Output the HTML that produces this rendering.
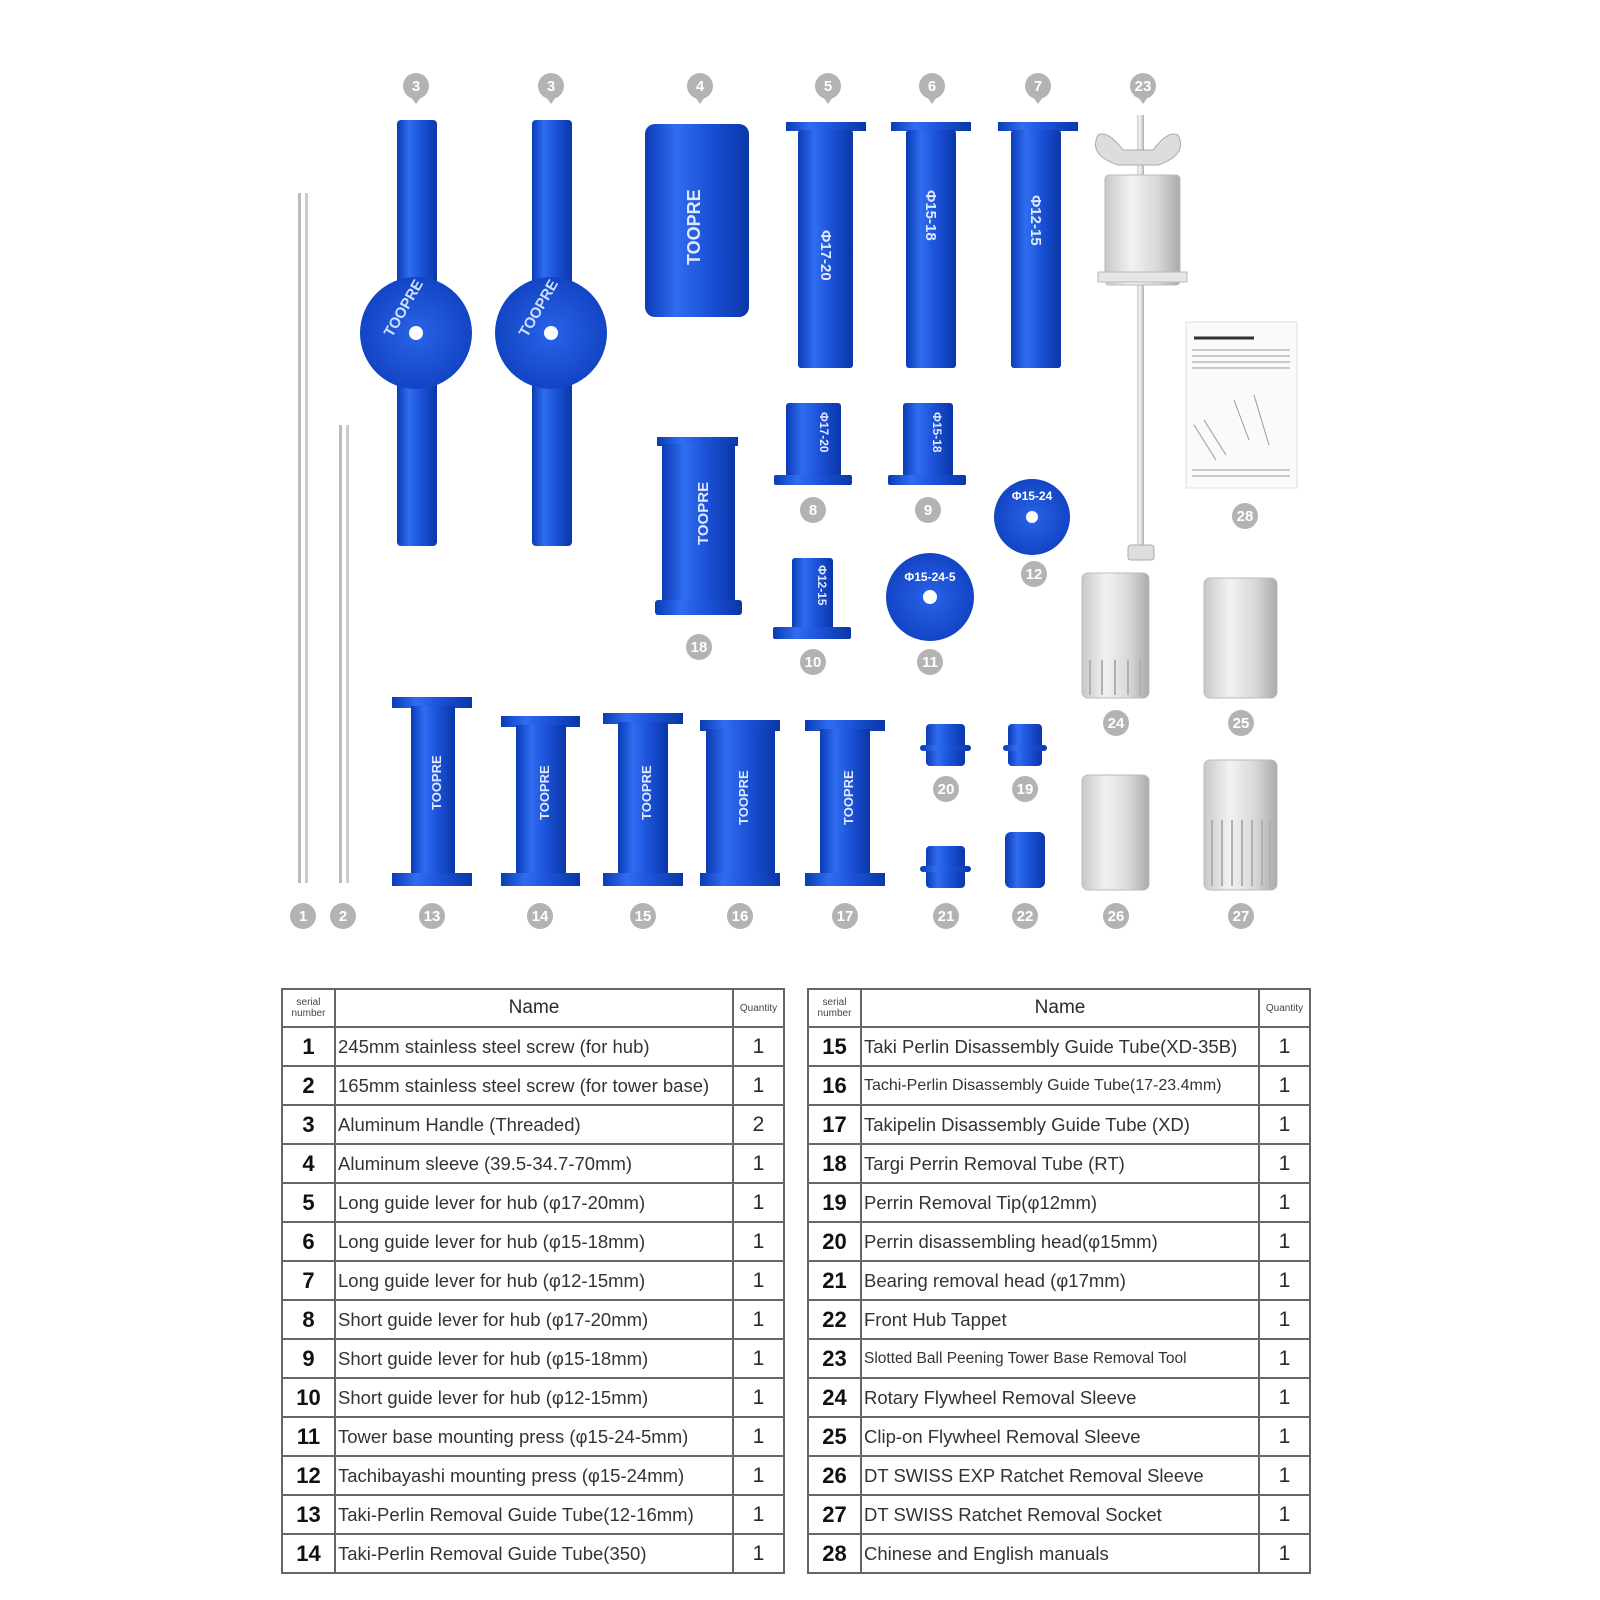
<!DOCTYPE html>
<html><head><meta charset="utf-8"><style>
html,body{margin:0;padding:0;background:#fff;width:1600px;height:1600px;overflow:hidden}
svg{position:absolute;left:0;top:0}
table{position:absolute;border-collapse:collapse;font-family:"Liberation Sans",sans-serif;color:#2a2a2a;table-layout:fixed}
td{border:2px solid #666;height:37px;padding:0;white-space:nowrap;overflow:hidden}
td.n{text-align:center;font-size:22px;font-weight:bold;color:#111}
td.t{font-size:18.5px;padding-left:2px;color:#333}
td.q{text-align:center;font-size:21px}
tr.h td{height:36px}
.sm{font-size:10px;line-height:11px;text-align:center;color:#444}
.hn{text-align:center;font-size:19px}
</style></head><body>
<svg width="1600" height="1600" viewBox="0 0 1600 1600" font-family="Liberation Sans, sans-serif">
<defs>
<linearGradient id="b" x1="0" x2="1"><stop offset="0" stop-color="#0b3bb5"/><stop offset=".3" stop-color="#2f6df0"/><stop offset=".6" stop-color="#1c52d8"/><stop offset="1" stop-color="#0a36a8"/></linearGradient>
<linearGradient id="s" x1="0" x2="1"><stop offset="0" stop-color="#c8c8c8"/><stop offset=".35" stop-color="#f2f2f2"/><stop offset=".7" stop-color="#d8d8d8"/><stop offset="1" stop-color="#aaa"/></linearGradient>
<radialGradient id="d"><stop offset="0" stop-color="#2a63e8"/><stop offset="1" stop-color="#1245c4"/></radialGradient>
</defs>
<!-- rods 1,2 -->
<rect x="298" y="193" width="3" height="690" fill="#bbb"/><rect x="305" y="193" width="3" height="690" fill="#ccc"/>
<rect x="339" y="425" width="3" height="458" fill="#bbb"/><rect x="346" y="425" width="3" height="458" fill="#ccc"/>
<!-- handles -->
<rect x="397" y="120" width="40" height="426" rx="4" fill="url(#b)"/><circle cx="416" cy="333" r="56" fill="url(#d)"/><circle cx="416" cy="333" r="7" fill="#fff"/>
<text x="392" y="338" fill="#cfe0ff" font-size="15" font-weight="bold" transform="rotate(-60 392 338)">TOOPRE</text>
<rect x="532" y="120" width="40" height="426" rx="4" fill="url(#b)"/><circle cx="551" cy="333" r="56" fill="url(#d)"/><circle cx="551" cy="333" r="7" fill="#fff"/>
<text x="527" y="338" fill="#cfe0ff" font-size="15" font-weight="bold" transform="rotate(-60 527 338)">TOOPRE</text>
<!-- 4 sleeve -->
<rect x="645" y="124" width="104" height="193" rx="10" fill="url(#b)"/>
<text x="700" y="265" fill="#dfe9ff" font-size="18" font-weight="bold" transform="rotate(-90 700 265)">TOOPRE</text>
<g fill="url(#b)">
<rect x="786" y="122" width="80" height="9"/><rect x="798" y="130" width="55" height="238" rx="3"/>
<rect x="891" y="122" width="80" height="9"/><rect x="906" y="130" width="50" height="238" rx="3"/>
<rect x="998" y="122" width="80" height="9"/><rect x="1011" y="130" width="50" height="238" rx="3"/>
<rect x="786" y="403" width="55" height="74" rx="3"/><rect x="774" y="475" width="78" height="10" rx="2"/>
<rect x="903" y="403" width="50" height="74" rx="3"/><rect x="888" y="475" width="78" height="10" rx="2"/>
<rect x="657" y="437" width="81" height="9"/><rect x="662" y="444" width="73" height="158"/><rect x="655" y="600" width="87" height="15" rx="3"/>
<rect x="792" y="558" width="41" height="71" rx="3"/><rect x="773" y="627" width="78" height="12" rx="2"/>
<rect x="392" y="697" width="80" height="11"/><rect x="411" y="706" width="44" height="170"/><rect x="392" y="873" width="80" height="13"/>
<rect x="501" y="716" width="79" height="11"/><rect x="516" y="725" width="50" height="150"/><rect x="501" y="873" width="79" height="13"/>
<rect x="603" y="713" width="80" height="11"/><rect x="618" y="722" width="50" height="153"/><rect x="603" y="873" width="80" height="13"/>
<rect x="700" y="720" width="80" height="11"/><rect x="706" y="729" width="69" height="146"/><rect x="700" y="873" width="80" height="13"/>
<rect x="805" y="720" width="80" height="11"/><rect x="820" y="729" width="50" height="146"/><rect x="805" y="873" width="80" height="13"/>
<rect x="926" y="724" width="39" height="42" rx="4"/><rect x="920" y="745" width="51" height="6" rx="3"/>
<rect x="1008" y="724" width="34" height="42" rx="4"/><rect x="1003" y="745" width="44" height="6" rx="3"/>
<rect x="926" y="846" width="39" height="42" rx="4"/><rect x="920" y="866" width="51" height="6" rx="3"/>
<rect x="1005" y="832" width="40" height="56" rx="6"/>
</g>
<g fill="#dfe9ff" font-size="15" font-weight="bold">
<text x="821" y="230" transform="rotate(90 821 230)">Φ17-20</text>
<text x="926" y="190" transform="rotate(90 926 190)">Φ15-18</text>
<text x="1031" y="195" transform="rotate(90 1031 195)">Φ12-15</text>
<text x="820" y="412" font-size="12" transform="rotate(90 820 412)">Φ17-20</text>
<text x="933" y="412" font-size="12" transform="rotate(90 933 412)">Φ15-18</text>
<text x="818" y="565" font-size="12" transform="rotate(90 818 565)">Φ12-15</text>
<text x="708" y="545" transform="rotate(-90 708 545)">TOOPRE</text>
<text x="441" y="810" font-size="13" transform="rotate(-90 441 810)">TOOPRE</text>
<text x="549" y="820" font-size="13" transform="rotate(-90 549 820)">TOOPRE</text>
<text x="651" y="820" font-size="13" transform="rotate(-90 651 820)">TOOPRE</text>
<text x="748" y="825" font-size="13" transform="rotate(-90 748 825)">TOOPRE</text>
<text x="853" y="825" font-size="13" transform="rotate(-90 853 825)">TOOPRE</text>
</g>
<circle cx="930" cy="597" r="44" fill="url(#d)"/><circle cx="930" cy="597" r="7" fill="#fff"/>
<text x="930" y="581" fill="#fff" font-size="12" font-weight="bold" text-anchor="middle">Φ15-24-5</text>
<circle cx="1032" cy="517" r="38" fill="url(#d)"/><circle cx="1032" cy="517" r="6" fill="#fff"/>
<text x="1032" y="500" fill="#fff" font-size="12" font-weight="bold" text-anchor="middle">Φ15-24</text>
<!-- 23 tool -->
<rect x="1137" y="115" width="7" height="445" fill="url(#s)"/>
<path d="M1098 135 q-10 20 20 30 l20 0 l20 0 q30-10 20-30 q-10-5-25 15 l-30 0 q-15-20-25-15z" fill="#ddd" stroke="#aaa"/>
<rect x="1105" y="175" width="75" height="110" rx="4" fill="url(#s)" stroke="#bbb"/>
<rect x="1098" y="272" width="89" height="10" fill="#e6e6e6" stroke="#bbb"/>
<rect x="1128" y="545" width="26" height="15" rx="3" fill="#ddd" stroke="#aaa"/>
<!-- 28 manual -->
<rect x="1186" y="322" width="111" height="166" fill="#fafafa" stroke="#ddd"/>
<g stroke="#999" stroke-width="1"><line x1="1194" y1="338" x2="1254" y2="338" stroke-width="3" stroke="#333"/>
<line x1="1192" y1="350" x2="1290" y2="350"/><line x1="1192" y1="356" x2="1290" y2="356"/><line x1="1192" y1="362" x2="1290" y2="362"/><line x1="1192" y1="368" x2="1290" y2="368"/>
<line x1="1194" y1="425" x2="1216" y2="460"/><line x1="1204" y1="420" x2="1226" y2="455"/><line x1="1234" y1="400" x2="1249" y2="440"/><line x1="1254" y1="395" x2="1269" y2="445"/>
<line x1="1192" y1="470" x2="1290" y2="470"/><line x1="1192" y1="476" x2="1290" y2="476"/></g>
<!-- silver sleeves -->
<rect x="1082" y="573" width="67" height="125" rx="6" fill="url(#s)" stroke="#bbb"/>
<rect x="1204" y="578" width="73" height="120" rx="6" fill="url(#s)" stroke="#bbb"/>
<rect x="1082" y="775" width="67" height="115" rx="6" fill="url(#s)" stroke="#bbb"/>
<rect x="1204" y="760" width="73" height="130" rx="6" fill="url(#s)" stroke="#bbb"/>
<g stroke="#b0b0b0" stroke-width="2">
<line x1="1090" y1="660" x2="1090" y2="695"/><line x1="1102" y1="660" x2="1102" y2="695"/><line x1="1115" y1="660" x2="1115" y2="695"/><line x1="1128" y1="660" x2="1128" y2="695"/><line x1="1140" y1="660" x2="1140" y2="695"/>
<line x1="1212" y1="820" x2="1212" y2="886"/><line x1="1222" y1="820" x2="1222" y2="886"/><line x1="1232" y1="820" x2="1232" y2="886"/><line x1="1242" y1="820" x2="1242" y2="886"/><line x1="1252" y1="820" x2="1252" y2="886"/><line x1="1262" y1="820" x2="1262" y2="886"/><line x1="1270" y1="820" x2="1270" y2="886"/>
</g>
<g font-size="15" font-weight="bold" fill="#fff" text-anchor="middle">
<g fill="#b3b3b3"><circle cx="416" cy="86" r="13"/><path d="M411 97 L421 97 L416 104z"/><circle cx="551" cy="86" r="13"/><path d="M546 97 L556 97 L551 104z"/><circle cx="700" cy="86" r="13"/><path d="M695 97 L705 97 L700 104z"/><circle cx="828" cy="86" r="13"/><path d="M823 97 L833 97 L828 104z"/><circle cx="932" cy="86" r="13"/><path d="M927 97 L937 97 L932 104z"/><circle cx="1038" cy="86" r="13"/><path d="M1033 97 L1043 97 L1038 104z"/><circle cx="1143" cy="86" r="13"/><path d="M1138 97 L1148 97 L1143 104z"/></g>
<text x="416" y="91">3</text><text x="551" y="91">3</text><text x="700" y="91">4</text><text x="828" y="91">5</text><text x="932" y="91">6</text><text x="1038" y="91">7</text><text x="1143" y="91">23</text>
<g fill="#b3b3b3">
<circle cx="813" cy="510" r="13"/><circle cx="928" cy="510" r="13"/><circle cx="1034" cy="574" r="13"/><circle cx="1245" cy="516" r="13"/><circle cx="699" cy="647" r="13"/><circle cx="813" cy="662" r="13"/><circle cx="930" cy="662" r="13"/><circle cx="1116" cy="723" r="13"/><circle cx="1241" cy="723" r="13"/><circle cx="946" cy="789" r="13"/><circle cx="1025" cy="789" r="13"/>
<circle cx="303" cy="916" r="13"/><circle cx="343" cy="916" r="13"/><circle cx="432" cy="916" r="13"/><circle cx="540" cy="916" r="13"/><circle cx="643" cy="916" r="13"/><circle cx="740" cy="916" r="13"/><circle cx="845" cy="916" r="13"/><circle cx="946" cy="916" r="13"/><circle cx="1025" cy="916" r="13"/><circle cx="1116" cy="916" r="13"/><circle cx="1241" cy="916" r="13"/>
</g>
<text x="813" y="515">8</text><text x="928" y="515">9</text><text x="1034" y="579">12</text><text x="1245" y="521">28</text><text x="699" y="652">18</text><text x="813" y="667">10</text><text x="930" y="667">11</text><text x="1116" y="728">24</text><text x="1241" y="728">25</text><text x="946" y="794">20</text><text x="1025" y="794">19</text>
<text x="303" y="921">1</text><text x="343" y="921">2</text><text x="432" y="921">13</text><text x="540" y="921">14</text><text x="643" y="921">15</text><text x="740" y="921">16</text><text x="845" y="921">17</text><text x="946" y="921">21</text><text x="1025" y="921">22</text><text x="1116" y="921">26</text><text x="1241" y="921">27</text>
</g>
</svg>

<table style="left:281px;top:988px;width:502px">
<colgroup><col style="width:53px"><col style="width:398px"><col style="width:51px"></colgroup>
<tr class="h"><td class="sm">serial<br>number</td><td class="hn">Name</td><td class="sm">Quantity</td></tr>
<tr><td class="n">1</td><td class="t">245mm stainless steel screw (for hub)</td><td class="q">1</td></tr>
<tr><td class="n">2</td><td class="t">165mm stainless steel screw (for tower base)</td><td class="q">1</td></tr>
<tr><td class="n">3</td><td class="t">Aluminum Handle (Threaded)</td><td class="q">2</td></tr>
<tr><td class="n">4</td><td class="t">Aluminum sleeve (39.5-34.7-70mm)</td><td class="q">1</td></tr>
<tr><td class="n">5</td><td class="t">Long guide lever for hub (φ17-20mm)</td><td class="q">1</td></tr>
<tr><td class="n">6</td><td class="t">Long guide lever for hub (φ15-18mm)</td><td class="q">1</td></tr>
<tr><td class="n">7</td><td class="t">Long guide lever for hub (φ12-15mm)</td><td class="q">1</td></tr>
<tr><td class="n">8</td><td class="t">Short guide lever for hub (φ17-20mm)</td><td class="q">1</td></tr>
<tr><td class="n">9</td><td class="t">Short guide lever for hub (φ15-18mm)</td><td class="q">1</td></tr>
<tr><td class="n">10</td><td class="t">Short guide lever for hub (φ12-15mm)</td><td class="q">1</td></tr>
<tr><td class="n">11</td><td class="t">Tower base mounting press (φ15-24-5mm)</td><td class="q">1</td></tr>
<tr><td class="n">12</td><td class="t">Tachibayashi mounting press (φ15-24mm)</td><td class="q">1</td></tr>
<tr><td class="n">13</td><td class="t">Taki-Perlin Removal Guide Tube(12-16mm)</td><td class="q">1</td></tr>
<tr><td class="n">14</td><td class="t">Taki-Perlin Removal Guide Tube(350)</td><td class="q">1</td></tr>
</table>

<table style="left:807px;top:988px;width:502px">
<colgroup><col style="width:53px"><col style="width:398px"><col style="width:51px"></colgroup>
<tr class="h"><td class="sm">serial<br>number</td><td class="hn">Name</td><td class="sm">Quantity</td></tr>
<tr><td class="n">15</td><td class="t">Taki Perlin Disassembly Guide Tube(XD-35B)</td><td class="q">1</td></tr>
<tr><td class="n">16</td><td class="t" style="font-size:16px">Tachi-Perlin Disassembly Guide Tube(17-23.4mm)</td><td class="q">1</td></tr>
<tr><td class="n">17</td><td class="t">Takipelin Disassembly Guide Tube (XD)</td><td class="q">1</td></tr>
<tr><td class="n">18</td><td class="t">Targi Perrin Removal Tube (RT)</td><td class="q">1</td></tr>
<tr><td class="n">19</td><td class="t">Perrin Removal Tip(φ12mm)</td><td class="q">1</td></tr>
<tr><td class="n">20</td><td class="t">Perrin disassembling head(φ15mm)</td><td class="q">1</td></tr>
<tr><td class="n">21</td><td class="t">Bearing removal head (φ17mm)</td><td class="q">1</td></tr>
<tr><td class="n">22</td><td class="t">Front Hub Tappet</td><td class="q">1</td></tr>
<tr><td class="n">23</td><td class="t" style="font-size:15.5px">Slotted Ball Peening Tower Base Removal Tool</td><td class="q">1</td></tr>
<tr><td class="n">24</td><td class="t">Rotary Flywheel Removal Sleeve</td><td class="q">1</td></tr>
<tr><td class="n">25</td><td class="t">Clip-on Flywheel Removal Sleeve</td><td class="q">1</td></tr>
<tr><td class="n">26</td><td class="t">DT SWISS EXP Ratchet Removal Sleeve</td><td class="q">1</td></tr>
<tr><td class="n">27</td><td class="t">DT SWISS Ratchet Removal Socket</td><td class="q">1</td></tr>
<tr><td class="n">28</td><td class="t">Chinese and English manuals</td><td class="q">1</td></tr>
</table>
</body></html>
